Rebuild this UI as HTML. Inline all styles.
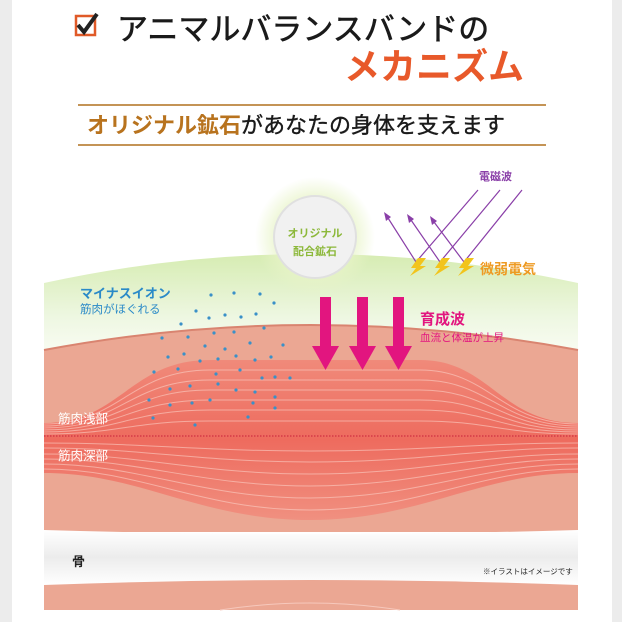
<!DOCTYPE html>
<html><head><meta charset="utf-8"><style>
html,body{margin:0;padding:0;width:622px;height:622px;overflow:hidden;background:#ececec}
svg{display:block}
text{font-family:"Liberation Sans","Noto Sans CJK JP",sans-serif}
</style></head><body>
<svg width="622" height="622" viewBox="0 0 622 622" xmlns="http://www.w3.org/2000/svg">
<defs>
<linearGradient id="gr" x1="0" y1="0" x2="0" y2="1">
<stop offset="0" stop-color="#d6ecb2"/><stop offset="0.6" stop-color="#eef7e2"/><stop offset="1" stop-color="#fbfdf6"/></linearGradient>
<linearGradient id="bone" x1="0" y1="0" x2="0" y2="1">
<stop offset="0" stop-color="#fff"/><stop offset="0.5" stop-color="#ececec"/><stop offset="1" stop-color="#fff"/></linearGradient>
<linearGradient id="red" x1="0" y1="0" x2="0" y2="1">
<stop offset="0" stop-color="#f08a7a"/><stop offset="0.5" stop-color="#ee6b5e"/><stop offset="1" stop-color="#f09080"/></linearGradient>
<radialGradient id="glow"><stop offset="0.55" stop-color="#e8f4c8"/><stop offset="1" stop-color="#e8f4c8" stop-opacity="0"/></radialGradient>
</defs>
<rect x="12" y="0" width="600" height="622" fill="#fff"/>
<rect x="76" y="16" width="19" height="19" fill="#fff" stroke="#e05a28" stroke-width="2.5"/>
<path d="M78,25 L84,32 L97,14" fill="none" stroke="#222" stroke-width="4"/>
<text x="117" y="40" font-size="31" fill="#1a1a1a" stroke="#1a1a1a" stroke-width="0.6">アニマルバランスバンドの</text>
<text x="344" y="79" font-size="36" font-weight="bold" fill="#e8592a">メカニズム</text>
<line x1="78" y1="105" x2="546" y2="105" stroke="#b0701f" stroke-width="1.5"/>
<line x1="78" y1="145" x2="546" y2="145" stroke="#b0701f" stroke-width="1.5"/>
<text x="87" y="133" font-size="22" font-weight="bold" fill="#b8731e">オリジナル鉱石<tspan fill="#1a1a1a" font-weight="normal" stroke="#1a1a1a" stroke-width="0.4">があなたの身体を支えます</tspan></text>
<path d="M44,283 Q310,225 578,283 L578,360 L44,360 Z" fill="url(#gr)"/>
<path d="M44,350 Q310,300 578,350 L578,532 L44,532 Z" fill="#eba793"/>
<path d="M44,350 Q310,300 578,350" fill="none" stroke="#d98470" stroke-width="2"/>
<path d="M44,423 C120,423 130,360 210,360 L420,360 C490,360 500,423 578,423 L578,473 C480,473 420,520 310,520 C200,520 140,473 44,473 Z" fill="url(#red)"/>
<g fill="none" stroke="#fbd0c6" stroke-width="1" opacity="0.6">
<path d="M44,424 C120,424 130,370 210,370 L420,370 C490,370 500,424 578,424"/>
<path d="M44,426 C120,426 130,380 210,380 L420,380 C490,380 500,426 578,426"/>
<path d="M44,428 C120,428 130,390 210,390 L420,390 C490,390 500,428 578,428"/>
<path d="M44,430 C120,430 130,400 210,400 L420,400 C490,400 500,430 578,430"/>
<path d="M44,432 C120,432 130,410 210,410 L420,410 C490,410 500,432 578,432"/>
<path d="M44,434 C120,434 130,421 210,421 L420,421 C490,421 500,434 578,434"/>
<path d="M44,469 C140,469 200,510 310,510 C420,510 480,469 578,469"/>
<path d="M44,464 C140,464 200,498 310,498 C420,498 480,464 578,464"/>
<path d="M44,459 C140,459 200,486 310,486 C420,486 480,459 578,459"/>
<path d="M44,454 C140,454 200,474 310,474 C420,474 480,454 578,454"/>
<path d="M44,448 C140,448 200,462 310,462 C420,462 480,448 578,448"/>
<path d="M44,443 C140,443 200,451 310,451 C420,451 480,443 578,443"/>
</g>
<line x1="44" y1="436" x2="578" y2="436" stroke="#c8203a" stroke-width="1" stroke-dasharray="1.5,1.5"/>
<path d="M44,530 Q310,538 578,530 L578,585 Q310,575 44,585 Z" fill="url(#bone)"/>
<path d="M44,585 Q310,575 578,585 L578,610 L44,610 Z" fill="#eba793"/>
<path d="M220,610 Q310,596 400,610" fill="none" stroke="#f6c8bc" stroke-width="1"/>
<circle cx="315" cy="237" r="60" fill="url(#glow)"/>
<circle cx="315" cy="237" r="41" fill="#f1f1f1" stroke="#e0e0e0" stroke-width="2"/>
<text x="315" y="237" font-size="11" font-weight="bold" fill="#8cb83a" text-anchor="middle">オリジナル</text>
<text x="315" y="255" font-size="11" font-weight="bold" fill="#8cb83a" text-anchor="middle">配合鉱石</text>
<g fill="none" stroke="#8a3fa8" stroke-width="1.2">
<path d="M478,190 L416,262 L388,218"/>
<path d="M500,190 L440,262 L411,220"/>
<path d="M522,190 L464,262 L434,222"/>
</g>
<g fill="#8a3fa8">
<path d="M384,212 L386,221 L391,217 Z"/>
<path d="M407,214 L409,223 L414,219 Z"/>
<path d="M430,216 L432,225 L437,221 Z"/>
</g>
<text x="479" y="180" font-size="11" font-weight="bold" fill="#8a3fa8">電磁波</text>
<g fill="#f2c41c">
<path d="M418,258 L426,258 L420,266 L426,266 L410,276 L416,268 L411,268 Z"/>
<path d="M442,258 L450,258 L444,266 L450,266 L434,276 L440,268 L435,268 Z"/>
<path d="M466,258 L474,258 L468,266 L474,266 L458,276 L464,268 L459,268 Z"/>
</g>
<text x="480" y="274" font-size="14" font-weight="bold" fill="#ee9a22">微弱電気</text>
<g fill="#e2157f">
<path d="M320,297 H331 V346 H339 L325.5,370 L312,346 H320 Z"/>
<path d="M357,297 H368 V346 H376 L362.5,370 L349,346 H357 Z"/>
<path d="M393,297 H404 V346 H412 L398.5,370 L385,346 H393 Z"/>
</g>
<text x="420" y="324" font-size="15" font-weight="bold" fill="#e2157f">育成波</text>
<text x="420" y="341" font-size="10.5" fill="#e2157f">血流と体温が上昇</text>
<text x="80" y="298" font-size="13" font-weight="bold" fill="#2a8ac8">マイナスイオン</text>
<text x="80" y="313" font-size="11.5" fill="#2a8ac8">筋肉がほぐれる</text>
<g fill="#3a90c8">
<circle cx="211" cy="295" r="1.6"/><circle cx="234" cy="293" r="1.6"/><circle cx="260" cy="294" r="1.6"/><circle cx="274" cy="303" r="1.6"/>
<circle cx="196" cy="311" r="1.6"/><circle cx="209" cy="318" r="1.6"/><circle cx="225" cy="315" r="1.6"/><circle cx="241" cy="317" r="1.6"/><circle cx="256" cy="314" r="1.6"/>
<circle cx="181" cy="324" r="1.6"/><circle cx="214" cy="333" r="1.6"/><circle cx="234" cy="332" r="1.6"/><circle cx="264" cy="328" r="1.6"/>
<circle cx="162" cy="338" r="1.6"/><circle cx="188" cy="337" r="1.6"/><circle cx="205" cy="346" r="1.6"/><circle cx="225" cy="349" r="1.6"/><circle cx="250" cy="343" r="1.6"/><circle cx="283" cy="345" r="1.6"/>
<circle cx="168" cy="357" r="1.6"/><circle cx="184" cy="354" r="1.6"/><circle cx="200" cy="361" r="1.6"/><circle cx="218" cy="359" r="1.6"/><circle cx="236" cy="356" r="1.6"/><circle cx="255" cy="360" r="1.6"/><circle cx="271" cy="357" r="1.6"/>
<circle cx="154" cy="372" r="1.6"/><circle cx="178" cy="369" r="1.6"/><circle cx="216" cy="374" r="1.6"/><circle cx="240" cy="370" r="1.6"/><circle cx="262" cy="378" r="1.6"/><circle cx="275" cy="377" r="1.6"/><circle cx="290" cy="378" r="1.6"/>
<circle cx="170" cy="389" r="1.6"/><circle cx="190" cy="386" r="1.6"/><circle cx="218" cy="384" r="1.6"/><circle cx="236" cy="390" r="1.6"/><circle cx="255" cy="392" r="1.6"/><circle cx="275" cy="397" r="1.6"/>
<circle cx="149" cy="400" r="1.6"/><circle cx="170" cy="405" r="1.6"/><circle cx="192" cy="403" r="1.6"/><circle cx="210" cy="400" r="1.6"/><circle cx="253" cy="403" r="1.6"/><circle cx="275" cy="408" r="1.6"/>
<circle cx="153" cy="418" r="1.6"/><circle cx="195" cy="425" r="1.6"/><circle cx="248" cy="417" r="1.6"/>
</g>
<text x="58" y="423" font-size="12.5" fill="#fff">筋肉浅部</text>
<text x="58" y="460" font-size="12.5" fill="#fff">筋肉深部</text>
<text x="72" y="566" font-size="13" font-weight="bold" fill="#222">骨</text>
<text x="483" y="574" font-size="7.5" fill="#222">※イラストはイメージです</text>
</svg>
</body></html>
